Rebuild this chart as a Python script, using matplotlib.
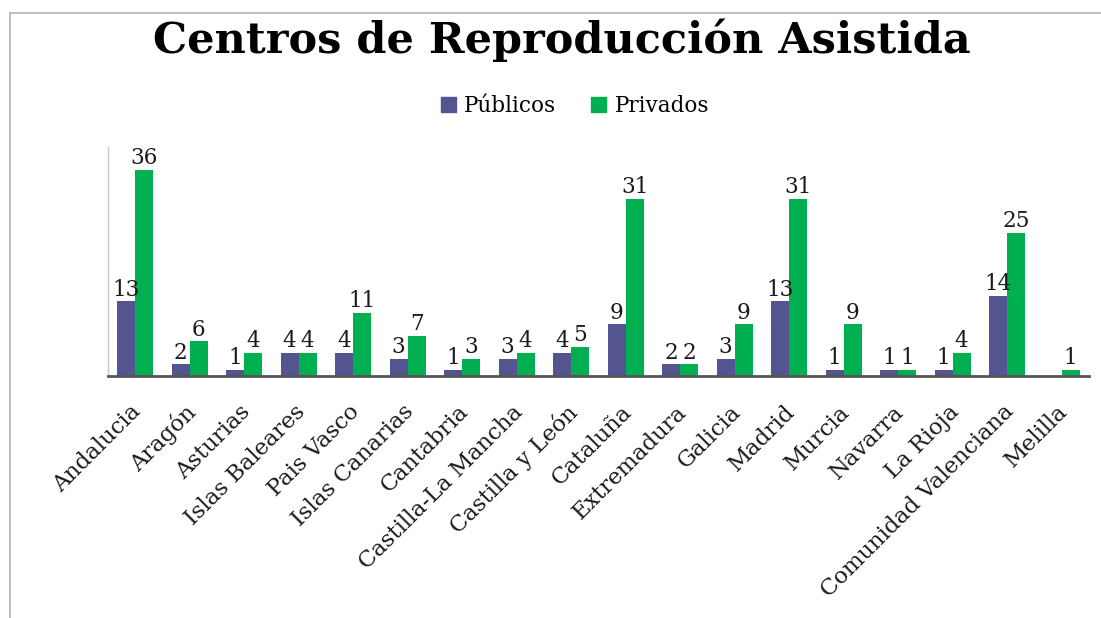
import numpy as np
import matplotlib
matplotlib.use("Agg")
import matplotlib.pyplot as plt
import matplotlib.transforms as mtransforms
from matplotlib.lines import Line2D
from matplotlib.patches import Patch


# =========================================================
# DATOS
# =========================================================

comunidades = [
    "Andalucia", "Aragón", "Asturias", "Islas Baleares", "Pais Vasco",
    "Islas Canarias", "Cantabria", "Castilla-La Mancha", "Castilla y León",
    "Cataluña", "Extremadura", "Galicia", "Madrid", "Murcia", "Navarra",
    "La Rioja", "Comunidad Valenciana", "Melilla"
]

publicos = [13, 2, 1, 4, 4, 3, 1, 3, 4, 9, 2, 3, 13, 1, 1, 1, 14, 0]
privados = [36, 6, 4, 4, 11, 7, 3, 4, 5, 31, 2, 9, 31, 9, 1, 4, 25, 1]

COLOR_PUB = "#545490"
COLOR_PRIV = "#00b050"

FUENTE = "DejaVu Serif"


# =========================================================
# FIGURA
# =========================================================

fig = plt.figure(figsize=(11.01, 6.18), dpi=100)

ax = fig.add_axes([0.098, 0.392, 0.891, 0.370])

x = np.arange(len(comunidades))
ancho = 0.33

barras_pub = ax.bar(x - ancho / 2, publicos, ancho, color=COLOR_PUB)
barras_priv = ax.bar(x + ancho / 2, privados, ancho, color=COLOR_PRIV)

# etiquetas de valor (Melilla no tiene centros públicos)
for barras, valores in [(barras_pub, publicos), (barras_priv, privados)]:

    for b, v in zip(barras, valores):

        if v == 0:
            continue

        ax.annotate(
            str(v),
            (b.get_x() + b.get_width() / 2, v),
            xytext=(0, 0.5),
            textcoords="offset points",
            ha="center",
            va="bottom",
            fontsize=15.5,
            family=FUENTE,
            color="#1a1a1a"
        )

ax.set_xlim(-0.5, len(comunidades) - 0.5)
ax.set_ylim(0, 40)

ax.set_yticks([])
ax.set_xticks(x)
ax.set_xticklabels(
    comunidades,
    rotation=45,
    ha="right",
    rotation_mode="anchor",
    fontsize=16.3,
    family=FUENTE,
    color="#1a1a1a"
)
ax.tick_params(axis="x", length=0, pad=18)

# pequeño desplazamiento a la izquierda de las etiquetas
desplaza = mtransforms.ScaledTranslation(-5 / 100, 0, fig.dpi_scale_trans)
for etiqueta in ax.get_xticklabels():
    etiqueta.set_transform(etiqueta.get_transform() + desplaza)

for lado in ["top", "right"]:
    ax.spines[lado].set_visible(False)

ax.spines["left"].set_color("#c8c8c8")
ax.spines["left"].set_linewidth(1)
ax.spines["bottom"].set_color("#555555")
ax.spines["bottom"].set_linewidth(2)


# =========================================================
# TITULO Y LEYENDA
# =========================================================

fig.text(
    0.51, 0.935,
    "Centros de Reproducción Asistida",
    ha="center",
    va="center",
    fontsize=31,
    fontweight="bold",
    family=FUENTE
)

handles = [
    Patch(color=COLOR_PUB, label="Públicos"),
    Patch(color=COLOR_PRIV, label="Privados"),
]

fig.legend(
    handles=handles,
    loc="center",
    bbox_to_anchor=(0.522, 0.828),
    ncol=2,
    frameon=False,
    handlelength=0.7,
    handleheight=0.7,
    handletextpad=0.4,
    columnspacing=1.6,
    prop={"family": FUENTE, "size": 15.5}
)


# =========================================================
# MARCO
# =========================================================

borde_x = 10 / 1101
borde_y = 1 - 13 / 618

fig.add_artist(Line2D([borde_x, borde_x], [0, borde_y],
                      color="#c0c0c0", lw=1.5, transform=fig.transFigure))
fig.add_artist(Line2D([borde_x, 1], [borde_y, borde_y],
                      color="#c0c0c0", lw=1.5, transform=fig.transFigure))

fig.savefig("out.png", dpi=100)
